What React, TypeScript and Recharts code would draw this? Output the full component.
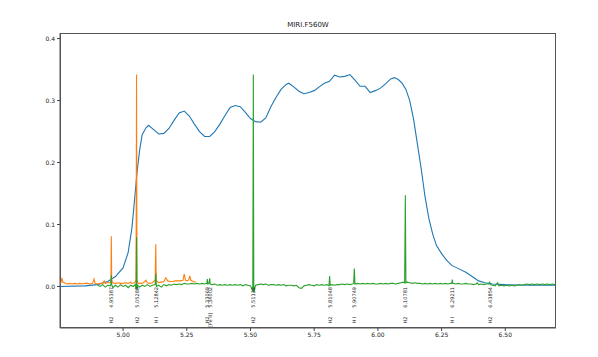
import { LineChart, Line, XAxis, YAxis, ReferenceDot } from "recharts";

// filter throughput curve (blue)
const filterWave = [
  4.75, 4.85, 4.9, 4.94, 4.97, 5.0, 5.02, 5.035, 5.045, 5.055, 5.065, 5.075, 5.09, 5.1, 5.12, 5.14,
  5.16, 5.18, 5.2, 5.22, 5.24, 5.26, 5.28, 5.3, 5.32, 5.34, 5.36, 5.38, 5.4, 5.42, 5.44, 5.46, 5.48,
  5.5, 5.52, 5.54, 5.56, 5.58, 5.6, 5.62, 5.64, 5.65, 5.67, 5.69, 5.71, 5.73, 5.75, 5.77, 5.79, 5.81,
  5.83, 5.85, 5.87, 5.89, 5.91, 5.93, 5.95, 5.97, 5.99, 6.01, 6.03, 6.05, 6.065, 6.08, 6.095, 6.11,
  6.125, 6.14, 6.155, 6.17, 6.185, 6.2, 6.215, 6.23, 6.25, 6.27, 6.29, 6.32, 6.345, 6.37, 6.395,
  6.42, 6.45, 6.5, 6.6, 6.7,
];
const filterThroughput = [
  0.0, 0.001, 0.003, 0.008, 0.016, 0.03, 0.055, 0.095, 0.14, 0.185, 0.22, 0.245, 0.256, 0.26, 0.253,
  0.246, 0.247, 0.255, 0.268, 0.28, 0.283, 0.275, 0.262, 0.25, 0.242, 0.242, 0.25, 0.262, 0.276,
  0.289, 0.292, 0.29, 0.281, 0.271, 0.266, 0.265, 0.272, 0.29, 0.305, 0.318, 0.326, 0.328, 0.322,
  0.315, 0.311, 0.313, 0.316, 0.322, 0.328, 0.331, 0.341, 0.338, 0.339, 0.342, 0.333, 0.323, 0.323,
  0.313, 0.316, 0.32, 0.327, 0.335, 0.337, 0.334, 0.328, 0.318, 0.3, 0.27, 0.23, 0.19, 0.145, 0.11,
  0.085, 0.066, 0.053, 0.042, 0.034, 0.028, 0.023, 0.016, 0.009, 0.006, 0.004, 0.003, 0.002, 0.002,
];

// first spectrum (orange)
const specAWave = [
  4.752, 4.756, 4.76, 4.763, 4.77, 4.78, 4.79, 4.8, 4.81, 4.82, 4.83, 4.84, 4.85, 4.86, 4.87, 4.88,
  4.886, 4.89, 4.9, 4.91, 4.92, 4.926, 4.93, 4.94, 4.95, 4.9525, 4.9539, 4.9553, 4.958, 4.97, 4.98,
  4.99, 5.0, 5.01, 5.02, 5.03, 5.035, 5.045, 5.051, 5.0529, 5.0545, 5.06, 5.07, 5.08, 5.09, 5.095,
  5.105, 5.115, 5.126, 5.1284, 5.13, 5.14, 5.15, 5.16, 5.168, 5.175, 5.185, 5.195, 5.205, 5.215,
  5.225, 5.235, 5.24, 5.245, 5.252, 5.258, 5.262, 5.266, 5.275, 5.285,
];
const specAFlux = [
  0.005, 0.006, 0.014, 0.007, 0.006, 0.004, 0.005, 0.004, 0.005, 0.004, 0.005, 0.004, 0.005, 0.005,
  0.004, 0.005, 0.012, 0.005, 0.004, 0.005, 0.005, 0.009, 0.005, 0.006, 0.006, 0.012, 0.081, 0.012,
  0.006, 0.005, 0.006, 0.005, 0.005, 0.006, 0.005, 0.007, 0.005, 0.006, 0.01, 0.342, 0.01, 0.005,
  0.005, 0.006, 0.01, 0.006, 0.005, 0.006, 0.01, 0.068, 0.01, 0.006, 0.007, 0.008, 0.014, 0.009,
  0.008, 0.008, 0.009, 0.009, 0.009, 0.01, 0.02, 0.01, 0.009, 0.011, 0.017, 0.01, 0.008, 0.007,
];

// second spectrum (green)
const specBWave = [
  4.9, 4.91, 4.92, 4.93, 4.94, 4.95, 4.9525, 4.9539, 4.9553, 4.96, 4.97, 4.98, 4.99, 5.0, 5.01, 5.02,
  5.03, 5.04, 5.048, 5.051, 5.0529, 5.0545, 5.058, 5.065, 5.075, 5.085, 5.095, 5.105, 5.115, 5.126,
  5.1284, 5.131, 5.14, 5.15, 5.16, 5.17, 5.18, 5.19, 5.2, 5.21, 5.22, 5.23, 5.24, 5.25, 5.26, 5.27,
  5.28, 5.29, 5.3, 5.31, 5.32, 5.329, 5.3307, 5.3325, 5.337, 5.34, 5.342, 5.35, 5.36, 5.37, 5.38,
  5.39, 5.4, 5.41, 5.42, 5.43, 5.44, 5.45, 5.46, 5.47, 5.48, 5.49, 5.5, 5.506, 5.509, 5.5112, 5.513,
  5.516, 5.52, 5.53, 5.54, 5.55, 5.56, 5.57, 5.58, 5.59, 5.6, 5.61, 5.62, 5.63, 5.64, 5.65, 5.66,
  5.67, 5.68, 5.69, 5.7, 5.71, 5.72, 5.73, 5.74, 5.75, 5.76, 5.77, 5.78, 5.79, 5.8, 5.808, 5.8105,
  5.813, 5.82, 5.83, 5.84, 5.85, 5.86, 5.87, 5.88, 5.89, 5.9, 5.905, 5.9075, 5.91, 5.92, 5.93, 5.94,
  5.95, 5.96, 5.97, 5.98, 5.99, 6.0, 6.01, 6.02, 6.03, 6.04, 6.05, 6.06, 6.07, 6.08, 6.09, 6.1,
  6.105, 6.1078, 6.11, 6.115, 6.125, 6.135, 6.145, 6.155, 6.165, 6.175, 6.185, 6.195, 6.205, 6.215,
  6.225, 6.235, 6.245, 6.255, 6.265, 6.275, 6.285, 6.29, 6.2921, 6.294, 6.305, 6.315, 6.325, 6.335,
  6.345, 6.355, 6.365, 6.375, 6.385, 6.39, 6.395, 6.405, 6.415, 6.425, 6.436, 6.4385, 6.441, 6.45,
  6.46, 6.47, 6.475, 6.485, 6.495, 6.505, 6.515, 6.525, 6.535, 6.545, 6.555, 6.565, 6.575, 6.585,
  6.595, 6.605, 6.615, 6.625, 6.635, 6.645, 6.655, 6.665, 6.675, 6.685, 6.695,
];
const specBFlux = [
  0.002, 0.0, 0.003, -0.001, 0.002, 0.001, 0.004, 0.018, 0.003, -0.002, 0.002, -0.001, 0.003, 0.0,
  0.002, -0.002, 0.002, 0.0, 0.003, -0.004, 0.08, -0.004, 0.002, -0.001, 0.002, 0.0, 0.003, 0.0,
  0.002, 0.003, 0.021, 0.0, 0.002, -0.001, 0.003, 0.001, 0.003, 0.002, 0.004, 0.003, 0.004, 0.003,
  0.005, 0.004, 0.004, 0.005, 0.004, 0.005, 0.004, 0.005, 0.004, 0.005, 0.012, 0.004, 0.005, 0.013,
  0.004, 0.003, 0.004, 0.002, 0.003, 0.002, 0.003, 0.002, 0.003, 0.002, 0.003, 0.002, 0.003, 0.001,
  0.003, 0.002, 0.001, -0.004, -0.008, 0.342, -0.01, -0.004, 0.002, 0.003, 0.004, 0.003, 0.004,
  0.002, 0.003, 0.003, 0.002, 0.003, 0.002, 0.003, 0.001, 0.002, 0.002, 0.001, 0.002, -0.002,
  -0.003, 0.001, 0.002, 0.003, 0.002, 0.001, 0.003, 0.002, 0.003, 0.002, 0.003, 0.001, 0.017, 0.002,
  0.003, 0.002, 0.003, 0.003, 0.004, 0.003, 0.004, 0.003, 0.004, 0.005, 0.029, 0.004, 0.005, 0.004,
  0.005, 0.004, 0.005, 0.004, 0.005, 0.004, 0.004, 0.005, 0.004, 0.005, 0.004, 0.005, 0.005, 0.004,
  0.005, 0.006, 0.007, 0.006, 0.147, 0.006, 0.007, 0.006, 0.005, 0.006, 0.005, 0.005, 0.004, 0.005,
  0.004, 0.005, 0.004, 0.005, 0.004, 0.005, 0.004, 0.005, 0.004, 0.005, 0.005, 0.011, 0.005, 0.004,
  0.005, 0.004, 0.004, 0.005, 0.004, 0.004, 0.003, 0.004, 0.006, 0.003, 0.004, 0.003, 0.004, 0.004,
  0.008, 0.003, 0.002, 0.001, 0.006, 0.001, 0.002, 0.001, 0.002, 0.001, 0.002, 0.001, 0.002, 0.003,
  0.002, 0.003, 0.004, 0.003, 0.004, 0.003, 0.004, 0.003, 0.004, 0.003, 0.004, 0.003, 0.004, 0.003,
];

// identified lines
const lineWaves = [4.95387, 5.05288, 5.12842, 5.33069, 5.34002, 5.51132, 5.81048, 5.90749, 6.10781, 6.29211, 6.43854];
const lineSpecies = ["H2", "H2", "H I", "H2", "[Fe II]", "H2", "H2", "H I", "H2", "H I", "H2"];
const waveLabelLevel = -0.0175;
const speciesLabelLevel = -0.054;

const xTicks = [5.0, 5.25, 5.5, 5.75, 6.0, 6.25, 6.5];
const yTicks = [0.0, 0.1, 0.2, 0.3, 0.4];
const xDomain: [number, number] = [4.7525, 6.699];
const yDomain: [number, number] = [-0.067, 0.409];

const toPoints = (xs: number[], ys: number[]) => xs.map((x, i) => ({ x, y: ys[i] }));

const FONT = "DejaVu Sans, sans-serif";

const VerticalText = (text: string, size: number) => (props: any) => {
  const { cx, cy } = props;
  return (
    <text
      x={cx}
      y={cy}
      transform={`rotate(-90 ${cx} ${cy})`}
      textAnchor="middle"
      dominantBaseline="central"
      fontSize={size}
      fontFamily={FONT}
      fill="#222"
    >
      {text}
    </text>
  );
};

export default function App() {
  const tick = { fill: "#222", fontSize: 6, fontFamily: FONT };
  return (
    <div style={{ position: "absolute", left: 0, top: 0, width: 598, height: 357, background: "#fff" }}>
      <div
        style={{
          position: "absolute",
          left: 60,
          width: 496,
          top: 21,
          textAlign: "center",
          fontFamily: FONT,
          fontSize: 7,
          color: "#222",
          lineHeight: "9px",
        }}
      >
        MIRI.F560W
      </div>
      {/* frame around the plot area */}
      <div
        style={{
          position: "absolute",
          left: 60,
          top: 33,
          width: 496,
          height: 295,
          boxSizing: "border-box",
          border: "1px solid #555",
          pointerEvents: "none",
        }}
      />
      <LineChart width={598} height={357} margin={{ top: 33, right: 42, bottom: 0, left: 0 }}>
        <XAxis
          dataKey="x"
          type="number"
          domain={xDomain}
          allowDataOverflow
          ticks={xTicks}
          tickFormatter={(v: number) => v.toFixed(2)}
          tick={tick}
          tickSize={3}
          height={29}
          axisLine={{ stroke: "#555" }}
          tickLine={{ stroke: "#444" }}
        />
        <YAxis
          type="number"
          domain={yDomain}
          allowDataOverflow
          ticks={yTicks}
          tickFormatter={(v: number) => v.toFixed(1)}
          tick={tick}
          tickSize={3}
          width={60}
          axisLine={{ stroke: "#555" }}
          tickLine={{ stroke: "#444" }}
        />
        <Line data={toPoints(filterWave, filterThroughput)} dataKey="y" stroke="#1f77b4" strokeWidth={1.1} dot={false} type="linear" isAnimationActive={false} />
        <Line data={toPoints(specAWave, specAFlux)} dataKey="y" stroke="#ff7f0e" strokeWidth={1.1} dot={false} type="linear" isAnimationActive={false} />
        <Line data={toPoints(specBWave, specBFlux)} dataKey="y" stroke="#2ca02c" strokeWidth={1.1} dot={false} type="linear" isAnimationActive={false} />
        {lineWaves.map((w) => (
          <ReferenceDot key={"w" + w} x={w} y={waveLabelLevel} r={0} shape={VerticalText(w.toFixed(5), 5)} />
        ))}
        {lineWaves.map((w, i) => (
          <ReferenceDot key={"s" + w} x={w} y={speciesLabelLevel} r={0} shape={VerticalText(lineSpecies[i], 5)} />
        ))}
      </LineChart>
    </div>
  );
}
